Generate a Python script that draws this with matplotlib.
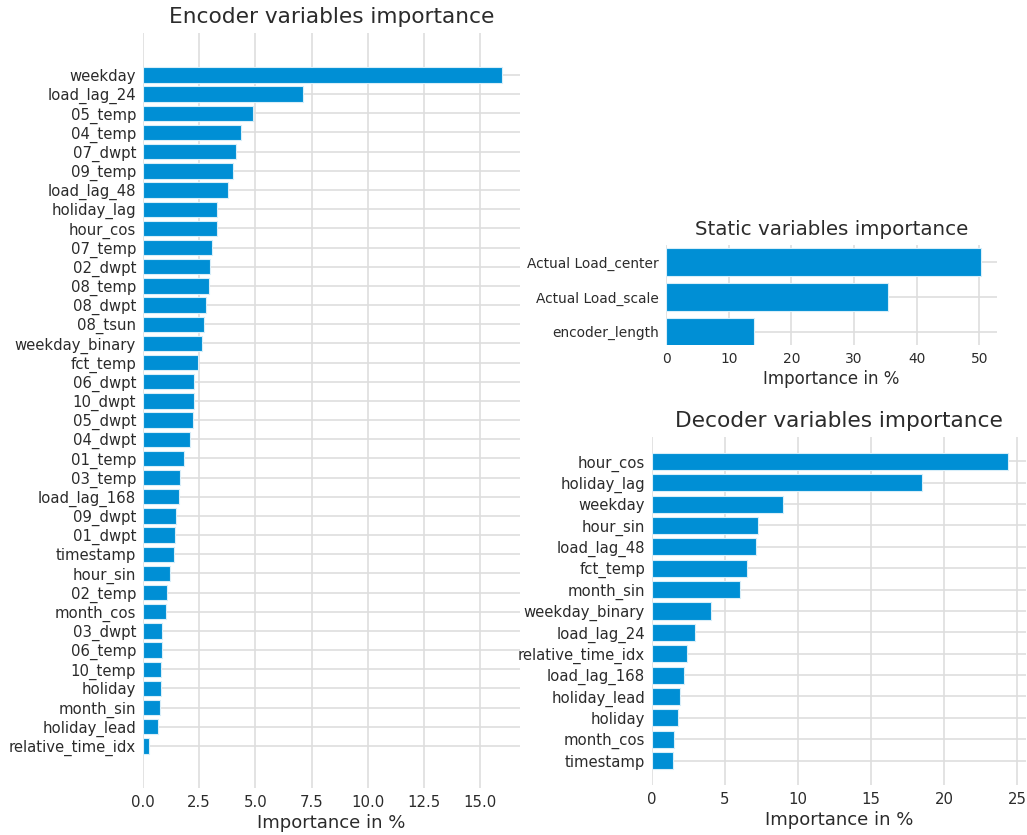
import numpy as np
import matplotlib
matplotlib.use("Agg")
import matplotlib.pyplot as plt

# variable importances (top to bottom as shown)
encoder_names = ["weekday", "load_lag_24", "05_temp", "04_temp", "07_dwpt", "09_temp",
                 "load_lag_48", "holiday_lag", "hour_cos", "07_temp", "02_dwpt", "08_temp",
                 "08_dwpt", "08_tsun", "weekday_binary", "fct_temp", "06_dwpt", "10_dwpt",
                 "05_dwpt", "04_dwpt", "01_temp", "03_temp", "load_lag_168", "09_dwpt",
                 "01_dwpt", "timestamp", "hour_sin", "02_temp", "month_cos", "03_dwpt",
                 "06_temp", "10_temp", "holiday", "month_sin", "holiday_lead",
                 "relative_time_idx"]
encoder_vals = [15.96, 7.13, 4.88, 4.36, 4.14, 4.02,
                3.78, 3.29, 3.30, 3.07, 2.98, 2.94,
                2.80, 2.70, 2.63, 2.43, 2.28, 2.27,
                2.24, 2.08, 1.82, 1.65, 1.59, 1.45,
                1.44, 1.38, 1.22, 1.08, 1.02, 0.86,
                0.83, 0.82, 0.79, 0.76, 0.68, 0.27]

static_names = ["Actual Load_center", "Actual Load_scale", "encoder_length"]
static_vals = [50.25, 35.4, 14.1]

decoder_names = ["hour_cos", "holiday_lag", "weekday", "hour_sin", "load_lag_48",
                 "fct_temp", "month_sin", "weekday_binary", "load_lag_24",
                 "relative_time_idx", "load_lag_168", "holiday_lead", "holiday",
                 "month_cos", "timestamp"]
decoder_vals = [24.4, 18.5, 8.95, 7.26, 7.1,
                6.48, 6.03, 4.04, 2.97,
                2.38, 2.21, 1.9, 1.8,
                1.53, 1.44]

BAR = "#008fd5"
TXT = "#2b2b2b"

plt.rcParams["font.family"] = "DejaVu Sans"
fig = plt.figure(figsize=(10.27, 8.35), dpi=100)
fig.patch.set_facecolor("white")


def importance_plot(ax, names, vals, title, scale=1.0, ylim=None):
    pos = np.arange(len(names))[::-1]
    ax.barh(pos, vals, height=0.8, color=BAR, edgecolor="#d8eef9", linewidth=0.8, zorder=2)
    ax.set_yticks(pos)
    ax.set_yticklabels(names)
    if ylim is not None:
        ax.set_ylim(*ylim)
    ax.set_title(title, fontsize=15.6 * scale, color=TXT, pad=7)
    ax.set_xlabel("Importance in %", fontsize=13 * scale, color=TXT, labelpad=3)
    ax.grid(True, color="#dedede", linewidth=1.2, zorder=0)
    ax.set_axisbelow(True)
    for s in ax.spines.values():
        s.set_visible(False)
    ax.tick_params(length=0, labelsize=10.75 * scale, colors=TXT, pad=5)
    ax.set_facecolor("white")


ax_enc = fig.add_axes([0.1392, 0.0563, 0.3667, 0.9042])
importance_plot(ax_enc, encoder_names, encoder_vals, "Encoder variables importance")

ax_st = fig.add_axes([0.6485, 0.5868, 0.3221, 0.1198])
importance_plot(ax_st, static_names, static_vals, "Static variables importance",
                scale=0.92, ylim=(-0.38, 2.49))

ax_dec = fig.add_axes([0.6349, 0.0599, 0.3642, 0.4168])
importance_plot(ax_dec, decoder_names, decoder_vals, "Decoder variables importance")

fig.savefig("out.png", dpi=100, facecolor="white")
